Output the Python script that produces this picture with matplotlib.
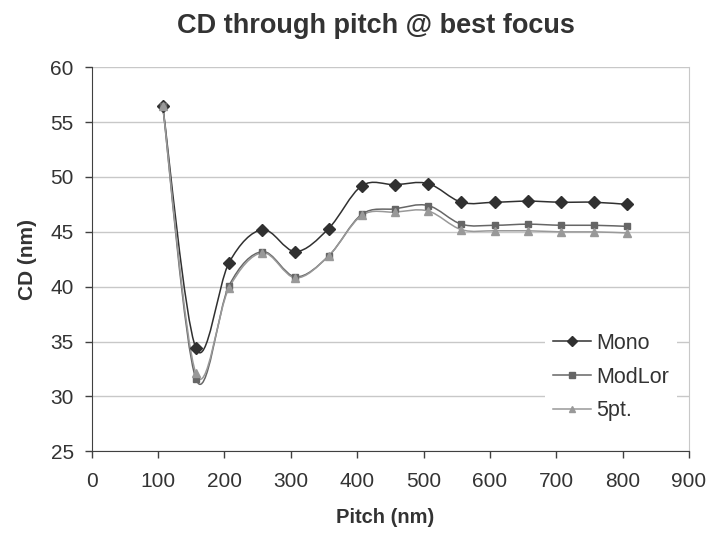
import matplotlib.pyplot as plt
from matplotlib.path import Path
from matplotlib.patches import PathPatch

plt.rcParams['font.family'] = ['Liberation Sans', 'DejaVu Sans']

# --- Data ---
pitch = [107, 157, 207, 257, 307, 357, 407, 457, 507, 557, 607, 657, 707, 757, 807]
mono = [56.5, 34.4, 42.2, 45.2, 43.2, 45.3, 49.2, 49.3, 49.4, 47.7, 47.7, 47.8, 47.7, 47.7, 47.5]
modlor = [56.5, 31.6, 40.1, 43.2, 40.9, 42.8, 46.6, 47.1, 47.4, 45.7, 45.6, 45.7, 45.6, 45.6, 45.5]
five_pt = [56.5, 32.1, 39.9, 43.1, 40.8, 42.8, 46.5, 46.8, 46.9, 45.2, 45.1, 45.1, 45.0, 45.0, 44.9]

x_ticks = list(range(0, 901, 100))
y_ticks = list(range(25, 61, 5))


def smooth_path(xs, ys):
    """Excel-like smoothed line: cubic Bezier segments through the points."""
    verts = [(xs[0], ys[0])]
    codes = [Path.MOVETO]
    n = len(xs)
    for i in range(n - 1):
        x0, y0 = (xs[i - 1], ys[i - 1]) if i > 0 else (xs[i], ys[i])
        x3, y3 = (xs[i + 2], ys[i + 2]) if i + 2 < n else (xs[i + 1], ys[i + 1])
        c1 = (xs[i] + (xs[i + 1] - x0) / 6, ys[i] + (ys[i + 1] - y0) / 6)
        c2 = (xs[i + 1] - (x3 - xs[i]) / 6, ys[i + 1] - (y3 - ys[i]) / 6)
        verts += [c1, c2, (xs[i + 1], ys[i + 1])]
        codes += [Path.CURVE4] * 3
    return Path(verts, codes)


fig = plt.figure(figsize=(7.07, 5.34), dpi=100)
ax = fig.add_axes([0.1297, 0.1549, 0.8448, 0.7191])

series = [
    ('Mono', mono, '#303030', 'D', 6.5, 5.5),
    ('ModLor', modlor, '#666666', 's', 4.8, 3.8),
    ('5pt.', five_pt, '#999999', '^', 5.2, 4.2),
]
for label, vals, col, mk, ms, leg_ms in series:
    ax.add_patch(PathPatch(smooth_path(pitch, vals), facecolor='none',
                           edgecolor=col, linewidth=1.1, zorder=3))
    ax.plot(pitch, vals, linestyle='none', marker=mk, markersize=ms,
            color=col, zorder=4)
    # legend proxy
    ax.plot([], [], color=col, marker=mk, markersize=leg_ms, linewidth=1.1, label=label)

ax.set_xlim(0, 900)
ax.set_ylim(25, 60)
ax.set_xticks(x_ticks)
ax.set_yticks(y_ticks)
ax.tick_params(axis='both', labelsize=15, labelcolor='#333333', color='#404040',
               direction='out', length=5, width=1)
ax.tick_params(axis='x', pad=10)
ax.tick_params(axis='y', pad=8)
ax.yaxis.grid(True, color='#c8c8c8', linewidth=1)
ax.set_axisbelow(True)

for side in ['left', 'bottom']:
    ax.spines[side].set_color('#404040')
ax.spines['top'].set_visible(False)
ax.spines['right'].set_color('#c8c8c8')

ax.set_xlabel('Pitch (nm)', fontsize=14.5, fontweight='bold', color='#333333')
ax.set_ylabel('CD (nm)', fontsize=15, fontweight='bold', color='#333333')
ax.xaxis.set_label_coords(0.492, -0.148)
ax.yaxis.set_label_coords(-0.092, 0.5)
fig.suptitle('CD through pitch @ best focus', fontsize=19.5, fontweight='bold',
             color='#333333', x=0.532, y=0.951, va='center')

leg = ax.legend(loc='center', bbox_to_anchor=(0.864, 0.294), bbox_transform=fig.transFigure,
                frameon=True, fontsize=15.5, handlelength=1.77, handletextpad=0.25,
                labelspacing=0.6, borderpad=0.35, borderaxespad=0)
leg.get_frame().set_edgecolor('none')
leg.get_frame().set_facecolor('white')
leg.get_frame().set_alpha(1)
leg.get_frame().set_boxstyle('square', pad=0)
for t in leg.get_texts():
    t.set_color('#333333')

plt.savefig('out.png', dpi=100)
